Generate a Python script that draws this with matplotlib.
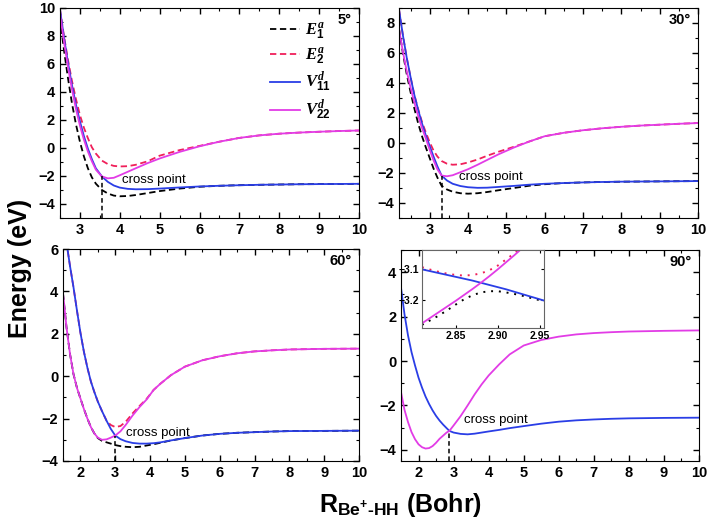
import matplotlib
matplotlib.use('Agg')
import matplotlib.pyplot as plt
from matplotlib.ticker import MultipleLocator, AutoMinorLocator, FormatStrFormatter

plt.rcParams['font.family'] = ['Liberation Sans', 'DejaVu Sans']
plt.rcParams['mathtext.fontset'] = 'custom'
plt.rcParams['mathtext.rm'] = 'Liberation Sans:bold'
plt.rcParams['mathtext.bf'] = 'Liberation Sans:bold'
plt.rcParams['mathtext.it'] = 'Liberation Serif:italic:bold'

# colours
c_e1 = 'black'
c_e2 = '#f0205a'
c_v11 = '#2a3ee6'
c_v22 = '#e23ce6'

# ---- 5 degrees ----
x5 = [2.5, 2.6, 2.7, 2.8, 2.9, 3.0, 3.1, 3.2, 3.3, 3.4, 3.55, 3.7, 3.85, 4.0, 4.2, 4.4,
      4.7, 5.0, 5.5, 6.0, 6.5, 7.0, 7.5, 8.0, 8.5, 9.0, 9.5, 10.0]
v11_5 = [9.9, 7.9, 6.1, 4.5, 3.1, 1.9, 0.85, -0.05, -0.8, -1.45, -2.03, -2.42, -2.68, -2.83,
         -2.92, -2.95, -2.94, -2.9, -2.82, -2.75, -2.70, -2.66, -2.63, -2.61, -2.59, -2.58,
         -2.57, -2.56]
v22_5 = [9.6, 7.6, 5.8, 4.2, 2.8, 1.6, 0.6, -0.25, -0.95, -1.55, -2.03, -2.17, -2.13, -1.95,
         -1.7, -1.45, -1.08, -0.75, -0.28, 0.12, 0.45, 0.72, 0.9, 1.02, 1.1, 1.16, 1.21, 1.25]
e2_5 = [9.9, 8.0, 6.3, 4.8, 3.5, 2.35, 1.45, 0.7, 0.05, -0.4, -0.9, -1.15, -1.28, -1.32,
        -1.3, -1.2, -0.95, -0.55, -0.15, 0.15, 0.45, 0.72, 0.9, 1.02, 1.1, 1.16, 1.21, 1.25]
e1_5 = [9.3, 7.0, 5.0, 3.2, 1.7, 0.45, -0.6, -1.45, -2.1, -2.55, -3.0, -3.25, -3.4, -3.45,
        -3.43, -3.36, -3.22, -3.08, -2.9, -2.77, -2.7, -2.66, -2.63, -2.61, -2.59, -2.58,
        -2.57, -2.56]

# ---- 30 degrees ----
x30 = [2.2, 2.3, 2.4, 2.5, 2.6, 2.7, 2.8, 2.9, 3.0, 3.1, 3.2, 3.31, 3.45, 3.6, 3.8, 4.0,
       4.25, 4.5, 4.8, 5.2, 5.6, 6.0, 6.5, 7.0, 7.5, 8.0, 8.5, 9.0, 9.5, 10.0]
v11_30 = [8.9, 7.2, 5.7, 4.4, 3.2, 2.2, 1.3, 0.5, -0.2, -0.9, -1.55, -2.17, -2.5, -2.72,
          -2.87, -2.95, -2.99, -2.98, -2.93, -2.86, -2.78, -2.72, -2.67, -2.63, -2.6, -2.58,
          -2.57, -2.56, -2.55, -2.54]
v22_30 = [7.6, 6.1, 4.8, 3.7, 2.7, 1.8, 1.0, 0.3, -0.45, -1.15, -1.75, -2.17, -2.22, -2.15,
          -1.95, -1.75, -1.45, -1.13, -0.75, -0.3, 0.1, 0.45, 0.68, 0.85, 0.98, 1.08, 1.16,
          1.22, 1.28, 1.33]
e2_30 = [8.9, 7.2, 5.7, 4.4, 3.2, 2.25, 1.4, 0.7, 0.05, -0.5, -0.9, -1.2, -1.38, -1.45,
         -1.42, -1.3, -1.1, -0.85, -0.58, -0.25, 0.1, 0.45, 0.68, 0.85, 0.98, 1.08, 1.16,
         1.22, 1.28, 1.33]
e1_30 = [7.6, 6.0, 4.6, 3.4, 2.3, 1.3, 0.45, -0.3, -1.0, -1.7, -2.3, -2.85, -3.1, -3.25,
         -3.35, -3.38, -3.35, -3.27, -3.15, -3.0, -2.85, -2.75, -2.67, -2.63, -2.6, -2.58,
         -2.57, -2.56, -2.55, -2.54]

# ---- 60 degrees ----
x60 = [1.5, 1.6, 1.7, 1.8, 1.9, 2.0, 2.1, 2.2, 2.3, 2.4, 2.5, 2.62, 2.75, 2.87, 3.0, 3.15,
       3.3, 3.5, 3.7, 3.9, 4.1, 4.3, 4.6, 5.0, 5.5, 6.0, 6.5, 7.0, 7.5, 8.0, 9.0, 10.0]
v11_60 = [7.3, 6.3, 5.2, 4.2, 3.1, 2.05, 1.15, 0.4, -0.25, -0.75, -1.2, -1.65, -2.1, -2.48,
          -2.8, -2.97, -3.07, -3.15, -3.18, -3.18, -3.16, -3.12, -3.03, -2.92, -2.8, -2.72,
          -2.67, -2.64, -2.61, -2.59, -2.58, -2.57]
v22_60 = [3.9, 2.3, 1.05, 0.1, -0.55, -1.05, -1.55, -2.0, -2.4, -2.7, -2.9, -3.0, -2.98,
          -2.9, -2.8, -2.6, -2.3, -1.85, -1.45, -1.1, -0.65, -0.35, 0.05, 0.45, 0.75, 0.94,
          1.08, 1.17, 1.22, 1.26, 1.29, 1.3]
e2_60 = [7.3, 6.3, 5.2, 4.2, 3.1, 2.05, 1.15, 0.4, -0.25, -0.75, -1.2, -1.65, -2.1, -2.3,
         -2.4, -2.35, -2.15, -1.75, -1.4, -1.07, -0.65, -0.35, 0.05, 0.45, 0.75, 0.94,
         1.08, 1.17, 1.22, 1.26, 1.29, 1.3]
e1_60 = [3.9, 2.3, 1.05, 0.1, -0.55, -1.05, -1.55, -2.0, -2.4, -2.7, -2.92, -3.05, -3.12,
         -3.18, -3.25, -3.3, -3.33, -3.35, -3.33, -3.27, -3.21, -3.14, -3.03, -2.92, -2.8,
         -2.72, -2.67, -2.64, -2.61, -2.59, -2.58, -2.57]

# ---- 90 degrees ----
x90 = [1.5, 1.6, 1.7, 1.8, 1.9, 2.0, 2.1, 2.2, 2.3, 2.4, 2.5, 2.6, 2.7, 2.8, 2.88, 3.0,
       3.2, 3.4, 3.6, 3.8, 4.0, 4.3, 4.6, 5.0, 5.5, 6.0, 6.5, 7.0, 7.5, 8.0, 9.0, 10.0]
v11_90 = [3.3, 2.1, 1.15, 0.4, -0.2, -0.75, -1.2, -1.6, -1.93, -2.22, -2.47, -2.68, -2.86,
          -3.02, -3.145, -3.22, -3.28, -3.3, -3.27, -3.22, -3.17, -3.1, -3.02, -2.93, -2.82,
          -2.73, -2.67, -2.63, -2.6, -2.58, -2.56, -2.55]
v22_90 = [-1.4, -2.2, -2.75, -3.2, -3.52, -3.75, -3.88, -3.94, -3.92, -3.83, -3.68, -3.5,
          -3.36, -3.22, -3.145, -2.9, -2.48, -2.0, -1.5, -1.05, -0.65, -0.15, 0.3, 0.7, 0.95,
          1.1, 1.2, 1.26, 1.3, 1.33, 1.36, 1.38]

# inset around the 90 degree crossing
x_in = [2.81, 2.82, 2.83, 2.84, 2.85, 2.86, 2.87, 2.88, 2.89, 2.90, 2.91, 2.92, 2.93, 2.94,
        2.95, 2.955]
v11_in = [-3.102, -3.108, -3.114, -3.12, -3.126, -3.132, -3.138, -3.145, -3.152, -3.159,
          -3.166, -3.174, -3.182, -3.19, -3.198, -3.202]
v22_in = [-3.275, -3.257, -3.239, -3.221, -3.203, -3.184, -3.165, -3.145, -3.124, -3.102,
          -3.079, -3.056, -3.032, -3.008, -2.984, -2.972]
e2_in = [-3.095, -3.103, -3.11, -3.116, -3.12, -3.122, -3.12, -3.115, -3.105, -3.09, -3.07,
         -3.05, -3.03, -3.008, -2.984, -2.972]
e1_in = [-3.28, -3.265, -3.25, -3.233, -3.215, -3.198, -3.185, -3.176, -3.172, -3.172,
         -3.176, -3.181, -3.187, -3.194, -3.201, -3.205]

cross_x = [3.55, 3.31, 3.0, 2.88]
cross_y = [-2.03, -2.17, -2.8, -3.145]
angles = ['5°', '30°', '60°', '90°']

fig = plt.figure(figsize=(7.09, 5.26), dpi=100)
ax1 = fig.add_axes([0.0846, 0.5856, 0.4217, 0.3992])
ax2 = fig.add_axes([0.5628, 0.5856, 0.4217, 0.3992])
ax3 = fig.add_axes([0.0889, 0.1236, 0.4174, 0.4030])
ax4 = fig.add_axes([0.5656, 0.1236, 0.4203, 0.4011])
axes = [ax1, ax2, ax3, ax4]

lw = 1.3
data = [(x5, e1_5, e2_5, v11_5, v22_5), (x30, e1_30, e2_30, v11_30, v22_30),
        (x60, e1_60, e2_60, v11_60, v22_60)]
for ax, (x, e1, e2, v11, v22) in zip(axes[:3], data):
    ax.plot(x, e1, color=c_e1, ls=(0, (3.5, 2)), lw=lw, label=r'$E_{\mathit{1}}^{\mathit{a}}$')
    ax.plot(x, e2, color=c_e2, ls=(0, (3.5, 2)), lw=lw, label=r'$E_{\mathit{2}}^{\mathit{a}}$')
    ax.plot(x, v11, color=c_v11, lw=lw, label=r'$V_{\mathit{11}}^{\mathit{d}}$')
    ax.plot(x, v22, color=c_v22, lw=lw, label=r'$V_{\mathit{22}}^{\mathit{d}}$')
ax4.plot(x90, v11_90, color=c_v11, lw=lw)
ax4.plot(x90, v22_90, color=c_v22, lw=lw)

limits = [((2.5, 10), (-5, 10)), ((2.2, 10), (-5, 9)), ((1.5, 10), (-4, 6)), ((1.5, 10), (-4.5, 5))]
text_pos = [(4.05, -2.3), (3.77, -2.28), (3.3, -2.7), (3.3, -2.67)]
for i, ax in enumerate(axes):
    ax.set_xlim(limits[i][0])
    ax.set_ylim(limits[i][1])
    ax.vlines(cross_x[i], limits[i][1][0], cross_y[i], colors='black', linestyles=(0, (3, 2)), lw=1.1)
    ax.text(text_pos[i][0], text_pos[i][1], 'cross point', fontsize=9.5, va='center')
    ax.text(0.975, 0.945, angles[i], transform=ax.transAxes, ha='right', va='center',
            fontsize=10.5, fontweight='bold')
    ax.xaxis.set_major_locator(MultipleLocator(1))
    ax.xaxis.set_minor_locator(AutoMinorLocator(2))
    ax.yaxis.set_major_locator(MultipleLocator(2))
    ax.yaxis.set_minor_locator(AutoMinorLocator(2))
    ax.tick_params(which='both', direction='in', top=True, right=True, labelsize=10.5)
    ax.tick_params(which='major', length=4.5, width=1)
    ax.tick_params(which='minor', length=2.5, width=0.8)
    for lab in ax.get_xticklabels() + ax.get_yticklabels():
        lab.set_fontweight('bold')

leg = ax1.legend(loc='upper left', bbox_to_anchor=(0.68, 0.975), frameon=False, fontsize=12,
                 handlelength=1.8, handletextpad=0.3, labelspacing=0.25, borderaxespad=0)

# inset
axi = fig.add_axes([0.5952, 0.3764, 0.1721, 0.1483])
axi.plot(x_in, e1_in, color=c_e1, ls=(0, (1, 3)), lw=1.4)
axi.plot(x_in, e2_in, color=c_e2, ls=(0, (1, 3)), lw=1.4)
axi.plot(x_in, v11_in, color=c_v11, lw=lw)
axi.plot(x_in, v22_in, color=c_v22, lw=lw)
axi.set_xlim(2.81, 2.955)
axi.set_ylim(-3.29, -3.04)
axi.set_xticks([2.85, 2.90, 2.95])
axi.set_yticks([-3.1, -3.2])
axi.xaxis.set_major_formatter(FormatStrFormatter('%.2f'))
axi.tick_params(direction='in', top=True, right=True, labelsize=7.5, length=2.5, pad=2)
for lab in axi.get_xticklabels() + axi.get_yticklabels():
    lab.set_fontweight('bold')
for s in axi.spines.values():
    s.set_color('#666666')
    s.set_linewidth(0.8)

fig.text(0.028, 0.49, 'Energy (eV)', rotation=90, ha='center', va='center',
         fontsize=18, fontweight='bold')
fig.text(0.565, 0.04, r'$\mathbf{R}_{\mathbf{Be^{+}\text{-}HH}}$ (Bohr)', ha='center',
         va='center', fontsize=18, fontweight='bold')

fig.savefig('out.png', dpi=100)
